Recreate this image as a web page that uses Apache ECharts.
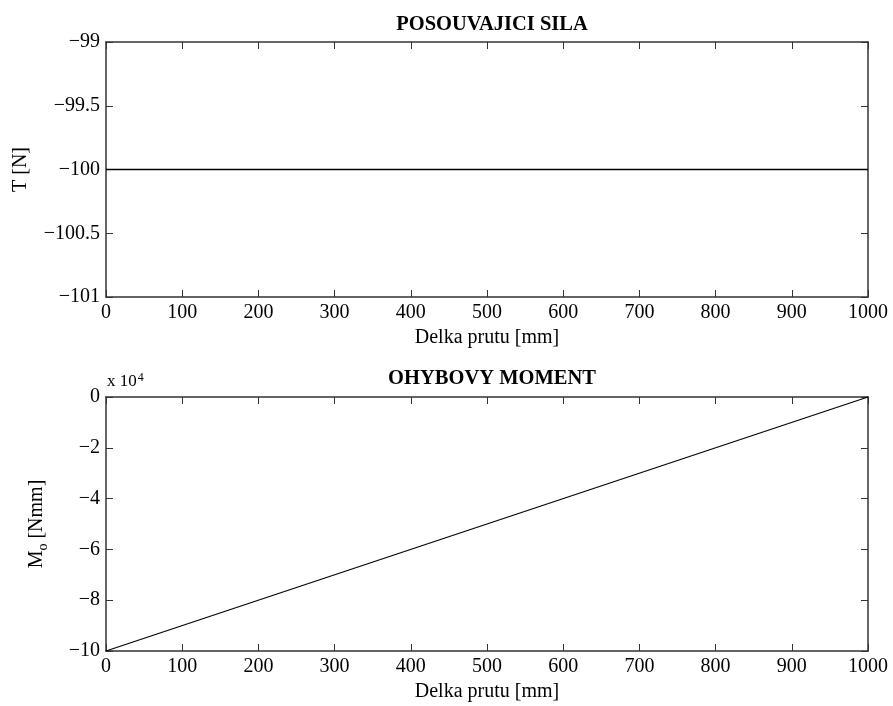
<!DOCTYPE html>
<html>
<head>
<meta charset="utf-8">
<script src="https://cdn.jsdelivr.net/npm/echarts@6/dist/echarts.min.js"></script>
<style>
html,body{margin:0;padding:0;background:#fff;}
#chart{width:893px;height:706px;}
</style>
</head>
<body>
<div id="chart"></div>
<script>
// Data
var positions = [0, 1000];            // Delka prutu [mm]
var shearForce = [-100, -100];        // T [N]
var bendingMoment = [-100000, 0];     // M_o [Nmm]

var titleTop = 'POSOUVAJICI SILA';
var titleBottom = 'OHYBOVY MOMENT';
var xName = 'Delka prutu [mm]';

var FONT = 'Liberation Serif';
var FRAME = '#333333';

function minus(s){ return String(s).replace('-', '\u2212'); }

var chart = echarts.init(document.getElementById('chart'), null, {renderer:'canvas'});

function xAx(grid, showLabel, pos){
  return {
    type:'value', gridIndex:grid, min:0, max:1000, interval:100, position:pos,
    name: showLabel ? xName : '', nameLocation:'middle', nameGap:31,
    nameTextStyle:{fontFamily:FONT, fontSize:20, color:'#000'},
    axisLine:{show:true, onZero:false, lineStyle:{color:FRAME, width:1.5}},
    axisTick:{show:true, inside:true, length:7, lineStyle:{color:FRAME, width:1}},
    axisLabel:{show:showLabel, fontFamily:FONT, fontSize:20, color:'#000', margin:6,
      formatter:function(v){ return String(v); }},
    splitLine:{show:false}
  };
}
function yAx(grid, pos, min, max, interval, fmt, name, gap, showLabel){
  return {
    type:'value', gridIndex:grid, min:min, max:max, interval:interval, position:pos,
    name: name, nameLocation:'middle', nameGap:gap, nameRotate:90,
    nameTextStyle:{fontFamily:FONT, fontSize:20, color:'#000',
      rich:{sub:{fontFamily:FONT, fontSize:14, color:'#000', verticalAlign:'bottom', padding:[12,0,0,0]}}},
    axisLine:{show:true, onZero:false, lineStyle:{color:FRAME, width:1.5}},
    axisTick:{show:true, inside:true, length:7, lineStyle:{color:FRAME, width:1}},
    axisLabel:{show:showLabel, fontFamily:FONT, fontSize:20, color:'#000', margin:6, formatter:fmt},
    splitLine:{show:false}
  };
}

var fmtTop = function(v){ return minus(v); };
var fmtBottom = function(v){ return minus(Math.round(v/1e4)); };

var option = {
  animation:false,
  backgroundColor:'#fff',
  title:[
    {text:titleTop, left:487, top:9, textAlign:'center',
     textStyle:{fontFamily:FONT, fontSize:20.5, fontWeight:'bold', color:'#000'}},
    {text:titleBottom, left:487, top:363, textAlign:'center',
     textStyle:{fontFamily:FONT, fontSize:20.5, fontWeight:'bold', color:'#000'}}
  ],
  grid:[
    {left:106, top:42, width:762, height:255},
    {left:106, top:397, width:762, height:254}
  ],
  xAxis:[
    xAx(0, true, 'bottom'),
    xAx(0, false, 'top'),
    xAx(1, true, 'bottom'),
    xAx(1, false, 'top')
  ],
  yAxis:[
    yAx(0, 'left', -101, -99, 0.5, fmtTop, 'T [N]', 75, true),
    yAx(0, 'right', -101, -99, 0.5, fmtTop, '', 0, false),
    yAx(1, 'left', -100000, 0, 20000, fmtBottom, 'M{sub|o} [Nmm]', 56, true),
    yAx(1, 'right', -100000, 0, 20000, fmtBottom, '', 0, false)
  ],
  graphic:[
    {type:'text', left:107, top:372, style:{
      text:'x 10{sup|4}', fontFamily:FONT, fontSize:17, fill:'#000',
      rich:{sup:{fontFamily:FONT, fontSize:12, fill:'#000', verticalAlign:'top', padding:[0,0,8,1]}}
    }}
  ],
  series:[
    {type:'line', xAxisIndex:0, yAxisIndex:0, showSymbol:false,
     data: positions.map(function(x,i){ return [x, shearForce[i]]; }),
     lineStyle:{color:'#000', width:1.3}},
    {type:'line', xAxisIndex:2, yAxisIndex:2, showSymbol:false,
     data: positions.map(function(x,i){ return [x, bendingMoment[i]]; }),
     lineStyle:{color:'#000', width:1.3}}
  ]
};
chart.setOption(option);
</script>
</body>
</html>
